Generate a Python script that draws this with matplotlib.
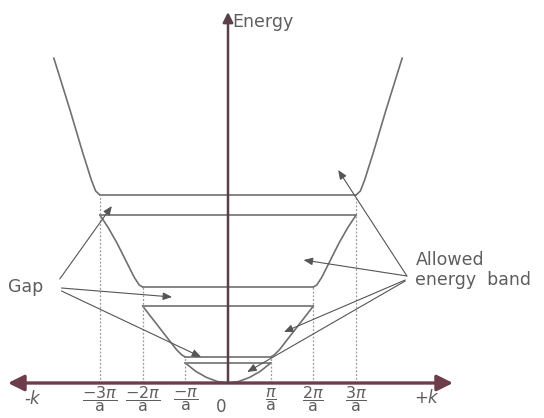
import matplotlib
matplotlib.use("Agg")
from matplotlib import pyplot as plt

# band edges (k in units of pi/a, energy in arbitrary units)
band_bottom = [0.0, 0.26, 0.96, 1.88]
band_top = [0.20, 0.77, 1.68]
zone_k = [1, 2, 3]

# right half of each band curve (mirrored for -k)
band1_k = [0.0, 0.25, 0.5, 0.75, 1.0]
band1_E = [0.0, 0.015, 0.055, 0.115, 0.20]
band2_k = [1.0, 1.08, 1.2, 1.4, 1.6, 1.8, 2.0]
band2_E = [0.26, 0.28, 0.33, 0.44, 0.55, 0.66, 0.77]
band3_k = [2.0, 2.08, 2.2, 2.4, 2.6, 2.8, 3.0]
band3_E = [0.96, 0.98, 1.06, 1.23, 1.40, 1.55, 1.68]
band4_k = [3.0, 3.1, 3.2, 3.4, 3.7, 4.08]
band4_E = [1.88, 1.92, 2.03, 2.30, 2.73, 3.25]

tick_k = [-3, -2, -1, 1, 2, 3]
tick_labels = [r'$\dfrac{-3\pi}{\mathrm{a}}$', r'$\dfrac{-2\pi}{\mathrm{a}}$', r'$\dfrac{-\pi}{\mathrm{a}}$',
               r'$\dfrac{\pi}{\mathrm{a}}$', r'$\dfrac{2\pi}{\mathrm{a}}$', r'$\dfrac{3\pi}{\mathrm{a}}$']

line_col = '#707070'
text_col = '#5e5e5e'
axis_col = '#6d3d4b'

fig = plt.figure(figsize=(5.44, 4.18), dpi=100)
ax = fig.add_axes([0, 0, 1, 1])
ax.set_xlim(-228 / 42.7, 316 / 42.7)
ax.set_ylim(-0.35, 3.83)
ax.axis('off')

# band curves, both halves
for ks, Es in [(band1_k, band1_E), (band2_k, band2_E), (band3_k, band3_E), (band4_k, band4_E)]:
    ax.plot(ks, Es, color=line_col, lw=1.2, solid_capstyle='round')
    ax.plot([-k for k in ks], Es, color=line_col, lw=1.2, solid_capstyle='round')

# flat band edges across the zone
for i in range(3):
    ax.plot([-zone_k[i], zone_k[i]], [band_top[i], band_top[i]], color=line_col, lw=1.2)
    ax.plot([-zone_k[i], zone_k[i]], [band_bottom[i + 1], band_bottom[i + 1]], color=line_col, lw=1.2)
    for s in (-1, 1):
        ax.plot([s * zone_k[i], s * zone_k[i]], [0, band_bottom[i + 1]],
                color='#9a9a9a', lw=0.9, ls=(0, (1.5, 1.5)))

# axes arrows
ax.annotate('', xy=(225 / 42.7, 0), xytext=(-220 / 42.7, 0),
            arrowprops=dict(arrowstyle='<|-|>,head_length=0.8,head_width=0.4', color=axis_col,
                            lw=2.4, mutation_scale=12, shrinkA=0, shrinkB=0))
ax.annotate('', xy=(0, 3.71), xytext=(0, 0),
            arrowprops=dict(arrowstyle='-|>,head_length=0.6,head_width=0.3', color='#5a4048',
                            lw=1.8, mutation_scale=10, shrinkA=0, shrinkB=0))

ax.text(0.1, 3.61, 'Energy', color=text_col, fontsize=12.5, va='center', ha='left')

for k, lab in zip(tick_k, tick_labels):
    ax.text(k, -0.165, lab, color=text_col, fontsize=11.5, ha='center', va='center')
ax.text(-0.16, -0.24, '0', color=text_col, fontsize=12, ha='center', va='center')
ax.text(-4.57, -0.16, '-$k$', color=text_col, fontsize=12, ha='center', va='center')
ax.text(4.66, -0.15, '+$k$', color=text_col, fontsize=12, ha='center', va='center')

# labels with pointer arrows
arr = dict(arrowstyle='-|>,head_length=0.6,head_width=0.25', color='#555555', lw=0.8,
           mutation_scale=9, shrinkA=0, shrinkB=0)

ax.text(-5.15, 0.96, 'Gap', color=text_col, fontsize=12.5, va='center', ha='left')
gap_from = [(-3.94, 1.04), (-3.90, 0.95), (-3.90, 0.92)]
gap_to = [(-2.72, 1.77), (-1.31, 0.86), (-0.63, 0.26)]
for a, b in zip(gap_from, gap_to):
    ax.annotate('', xy=b, xytext=a, arrowprops=arr)

ax.text(4.39, 1.13, 'Allowed\nenergy  band', color=text_col, fontsize=12.5,
        va='center', ha='left', linespacing=1.15)
band_from = [(4.19, 1.07), (4.19, 1.07), (4.15, 1.03), (4.15, 1.02)]
band_to = [(2.58, 2.13), (1.77, 1.23), (1.31, 0.51), (0.45, 0.11)]
for a, b in zip(band_from, band_to):
    ax.annotate('', xy=b, xytext=a, arrowprops=arr)

plt.savefig('out.png', dpi=100)
